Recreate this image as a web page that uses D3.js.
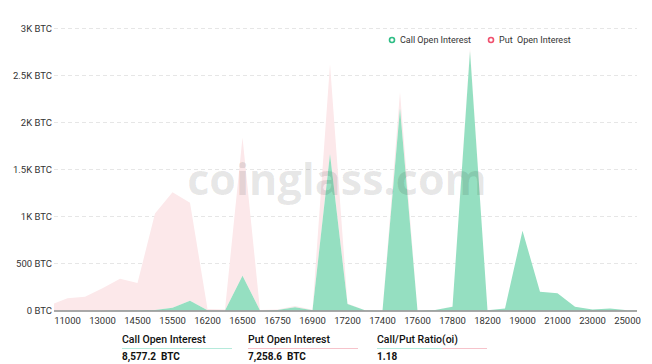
<!DOCTYPE html>
<html><head><meta charset="utf-8">
<script src="https://cdn.jsdelivr.net/npm/d3@7/dist/d3.min.js"></script>
<style>body{margin:0;background:#fff;}svg{display:block;}</style>
</head><body><svg id="c" width="652" height="364"></svg>
<script>
const strikes = ["10000","11000","12000","13000","14000","14500","15000","15500","16000","16200","16400","16500","16600","16750","16800","16900","17000","17200","17300","17400","17500","17600","17700","17800","18000","18200","18500","19000","20000","21000","22000","23000","24000","25000","26000"];
const labeledStrikes = ["11000","13000","14500","15500","16200","16500","16750","16900","17200","17400","17600","17800","18200","19000","21000","23000","25000"];
const callOI = [0,0,0,0,2,3,5,30,104,3,0,370,0,5,34,3,1664,69,3,0,2150,0,5,40,2760,3,20,848,200,183,40,10,20,3,0];
const putOI  = [57,130,147,236,335,289,1025,1226,1042,13,10,1470,5,5,14,5,956,6,0,0,173,0,0,2,30,0,0,0,0,0,0,0,0,0,0];
const yTicks = [0,500,1000,1500,2000,2500,3000];
const yTickLabels = ["0 BTC","500 BTC","1K BTC","1.5K BTC","2K BTC","2.5K BTC","3K BTC"];
const seriesNames = ["Call Open Interest","Put  Open Interest"];
const totals = {call:"8,577.2  BTC", put:"7,258.6  BTC", ratio:"1.18"};

(function(){
const svg = d3.select("#c");
const font = "Roboto, 'Noto Sans', sans-serif";
const pl = 54, pr = 637, pt = 28.3, pb = 310.5;
const x = d3.scalePoint().domain(strikes).range([50, 645]);
const y = d3.scaleLinear().domain([0,3000]).range([pb, pt]);

const g = svg.append("g");
g.selectAll("line.grid").data(yTicks.filter(d=>d>0)).join("line")
  .attr("x1", pl).attr("x2", pr).attr("y1", d=>Math.round(y(d))+0.5).attr("y2", d=>Math.round(y(d))+0.5)
  .attr("stroke", "#e6e6e6").attr("stroke-dasharray", "4,3").attr("stroke-width",1);

svg.append("defs").append("clipPath").attr("id","clip").append("rect")
  .attr("x", pl).attr("y", 0).attr("width", pr-pl).attr("height", pb);

const rows = strikes.map((s,i)=>({s, call:callOI[i], put:putOI[i]}));
const stack = d3.stack().keys(["call","put"])(rows);
const colors = ["#95dfc1","#fce8ea"];
const area = d3.area().x(d=>x(d.data.s)).y0(d=>y(d[0])).y1(d=>y(d[1]));
const plot = svg.append("g").attr("clip-path","url(#clip)");
plot.selectAll("path.a").data(stack.slice().reverse()).join("path")
  .attr("d", area).attr("fill", d=>colors[d.index]);

svg.append("g").selectAll("text").data(yTicks).join("text")
  .attr("x", pl-2).attr("y", d=>y(d)).attr("dy","0.35em").attr("text-anchor","end")
  .attr("font-family", font).attr("font-size", 9.5).attr("fill", "#333")
  .text((d,i)=>yTickLabels[i]);

svg.append("line").attr("x1", pl).attr("x2", pr).attr("y1", pb+0.5).attr("y2", pb+0.5)
  .attr("stroke", "#555").attr("stroke-width", 1);
svg.append("g").selectAll("text").data(labeledStrikes).join("text")
  .attr("x", d=>x(d)).attr("y", 324).attr("text-anchor","middle")
  .attr("font-family", font).attr("font-size", 9.5).attr("fill", "#333").text(d=>d);

svg.append("text").attr("x", 337).attr("y", 195).attr("text-anchor","middle")
  .attr("font-family", "'Open Sans', sans-serif").attr("font-weight", 700).attr("font-size", 43)
  .attr("fill", "rgba(0,0,0,0.1)").text("coinglass.com");

const leg = [{x:392, c:"#2ebd85", t:seriesNames[0]}, {x:491, c:"#f0506e", t:seriesNames[1]}];
const lg = svg.append("g").selectAll("g").data(leg).join("g");
lg.append("circle").attr("cx", d=>d.x).attr("cy", 40).attr("r", 2.5).attr("fill", "#fff")
  .attr("stroke", d=>d.c).attr("stroke-width", 1.6);
lg.append("text").attr("x", d=>d.x+8).attr("y", 40).attr("dy","0.35em")
  .attr("font-family", font).attr("font-size", 9).attr("fill", "#333").style("white-space","pre").text(d=>d.t);

const stats = [
  {x:122, h:"Call Open Interest", v:totals.call, c:["#b5eadb","#b5eadb"]},
  {x:248, h:"Put Open Interest", v:totals.put, c:["#f6c3cb","#f6c3cb"]},
  {x:377, h:"Call/Put Ratio(oi)", v:totals.ratio, c:["#b5eadb","#f6c3cb"]}
];
const sg = svg.append("g").selectAll("g").data(stats).join("g");
sg.append("text").attr("x", d=>d.x).attr("y", 343).attr("font-family", font).attr("font-weight", 500)
  .attr("font-size", 10.5).attr("fill", "#111").text(d=>d.h);
sg.append("line").attr("x1", d=>d.x).attr("x2", d=>d.x+65).attr("y1", 348.5).attr("y2", 348.5)
  .attr("stroke", d=>d.c[0]).attr("stroke-width", 1);
sg.append("line").attr("x1", d=>d.x+65).attr("x2", d=>d.x+110).attr("y1", 348.5).attr("y2", 348.5)
  .attr("stroke", d=>d.c[1]).attr("stroke-width", 1);
sg.append("text").attr("x", d=>d.x).attr("y", 360).attr("font-family", font).attr("font-weight", 700)
  .attr("font-size", 10).attr("fill", "#111").style("white-space","pre").text(d=>d.v);
})();
</script></body></html>
